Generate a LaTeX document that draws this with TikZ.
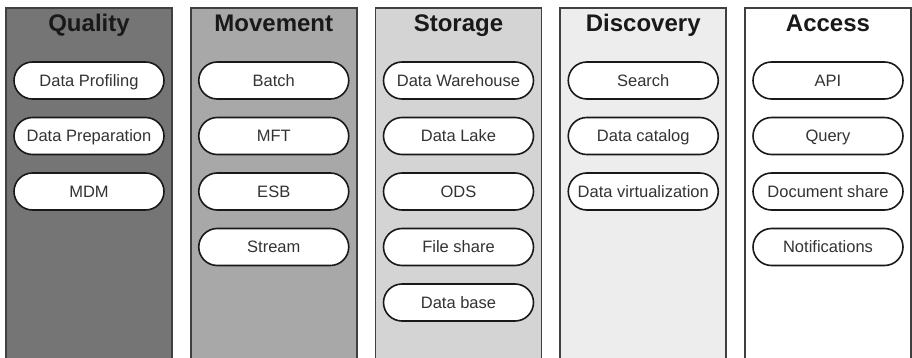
\documentclass[tikz,border=0pt]{standalone}
\usepackage{fontspec}
\setmainfont{Liberation Sans}
\usetikzlibrary{shapes.misc}

\tikzset{
  colbox/.style={draw=black!75, line width=1.6pt, rectangle, anchor=north,
    minimum width=166pt, minimum height=400pt, inner sep=0pt},
  headtxt/.style={font=\fontsize{24}{26}\selectfont\bfseries, text=black!90,
    anchor=base},
  pill/.style={draw=black!90, line width=1.6pt, fill=white, rounded rectangle,
    minimum width=150pt, minimum height=37pt, inner sep=0pt,
    text height=11.8pt, text depth=0pt,
    font=\fontsize{16.5}{18}\selectfont, text=black!80}
}

\begin{document}
\begin{tikzpicture}[x=1pt, y=-1pt]
  \useasboundingbox (0,0) rectangle (912,358);
  \clip (0,0) rectangle (912,358);
  \foreach \x/\c/\h/\items in {89/black!54/Quality/{Data Profiling,Data Preparation,MDM},
      273.75/black!34/Movement/{Batch,MFT,ESB,Stream},
      458.5/black!17/Storage/{Data Warehouse,Data Lake,ODS,File share,Data base},
      643.25/black!7/Discovery/{Search,Data catalog,Data virtualization},
      828/white/Access/{API,Query,Document share,Notifications}} {
    \node[colbox, fill=\c] (col\h) at (\x,7) {};
    \node[headtxt] (head\h) at (\x,31.5) {\h};
    \foreach \t [count=\j] in \items {
      \node[pill] (\h-\j) at (\x,{80.5+55.5*(\j-1)}) {\t};
    }
  }
\end{tikzpicture}
\end{document}
